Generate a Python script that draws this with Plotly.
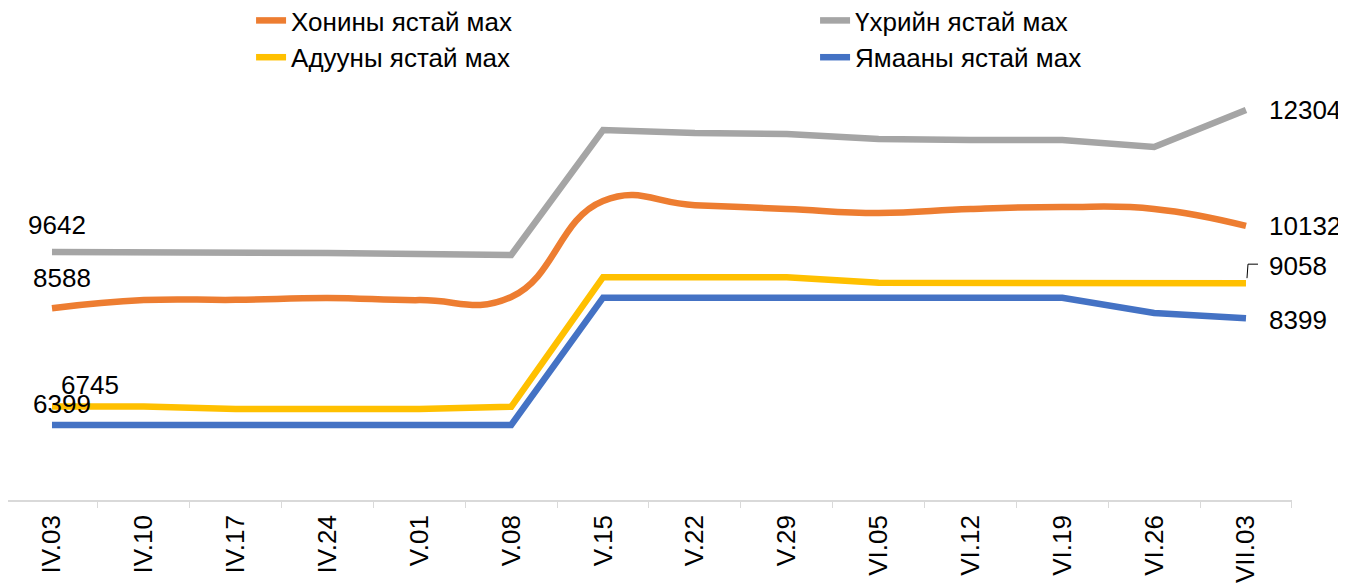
import plotly.graph_objects as go

categories = ["IV.03", "IV.10", "IV.17", "IV.24", "V.01", "V.08", "V.15",
              "V.22", "V.29", "VI.05", "VI.12", "VI.19", "VI.26", "VII.03"]

khonin = [8588, 8740, 8745, 8780, 8740, 8800, 10600, 10520, 10450, 10375, 10450, 10485, 10450, 10132]
ukhriin = [9642, 9642, 9642, 9623, 9605, 9586, 11930, 11873, 11855, 11761, 11742, 11742, 11611, 12304]
aduu = [6745, 6745, 6700, 6700, 6700, 6740, 9170, 9170, 9170, 9065, 9065, 9065, 9062, 9058]
yamaa = [6399, 6399, 6399, 6399, 6399, 6399, 8785, 8785, 8785, 8785, 8785, 8785, 8500, 8399]

names = ["Хонины ястай мах", "Үхрийн ястай мах", "Адууны ястай мах", "Ямааны ястай мах"]
colors = ["#ED7D31", "#A5A5A5", "#FFC000", "#4472C4"]
series = [khonin, ukhriin, aduu, yamaa]
shapes_ = ["spline", "linear", "linear", "linear"]

FONT = "Liberation Sans, Arial, sans-serif"

fig = go.Figure()
for name, col, vals, shp in zip(names, colors, series, shapes_):
    fig.add_trace(go.Scatter(
        x=categories, y=vals, name=name, mode="lines",
        line=dict(color=col, width=6.5, shape=shp, smoothing=1.3),
        hoverinfo="skip",
    ))

# data labels (first and last point of each series)
label_style = dict(font=dict(family=FONT, size=26, color="#000000"), showarrow=False)
first_offsets = {  # (xshift, yshift)
    0: (10, 30),
    1: (5, 27),
    2: (38, 22),
    3: (10, 21),
}
last_offsets = {
    0: (21, 0),
    1: (21, 0),
    2: (21, 17),
    3: (21, -2),
}
annotations = []
for i, vals in enumerate(series):
    xs, ys = first_offsets[i]
    annotations.append(dict(x=categories[0], y=vals[0], xref="x", yref="y",
                            text=str(vals[0]), xanchor="center", yanchor="middle",
                            xshift=xs, yshift=ys, **label_style))
    xs, ys = last_offsets[i]
    annotations.append(dict(x=categories[-1], y=vals[-1], xref="x", yref="y",
                            text=str(vals[-1]), xanchor="left", yanchor="middle",
                            xshift=xs, yshift=ys, **label_style))

fig.update_layout(
    width=1338, height=575,
    margin=dict(l=0, r=54, t=82, b=83, autoexpand=False),
    paper_bgcolor="white", plot_bgcolor="white",
    font=dict(family=FONT, color="#000000"),
    showlegend=True,
    legend=dict(
        orientation="h", xref="paper", yref="paper",
        x=0.1893, y=1.2268, xanchor="left", yanchor="top",
        font=dict(family=FONT, size=26, color="#000000"),
        entrywidth=519, entrywidthmode="pixels",
        bgcolor="rgba(0,0,0,0)", traceorder="normal",
    ),
    annotations=annotations,
    shapes=[dict(
        type="path", xref="x", yref="y",
        xsizemode="pixel", ysizemode="pixel",
        xanchor=len(categories) - 1, yanchor=aduu[-1],
        path="M1,5 L2,19 L12,19",
        line=dict(color="#000000", width=1),
    )],
    xaxis=dict(
        type="category", showgrid=False, zeroline=False, automargin=False,
        showline=True, linecolor="#D9D9D9", linewidth=1.5,
        ticks="outside", tickson="boundaries", ticklen=6, tickcolor="#D9D9D9",
        tickangle=-90, tickfont=dict(family=FONT, size=26, color="#000000"),
        ticklabelstandoff=3,
        range=[-0.479, 13.501],
    ),
    yaxis=dict(visible=False, automargin=False, range=[4992, 12680],
               showgrid=False, zeroline=False),
)

fig.write_html("out.html")
